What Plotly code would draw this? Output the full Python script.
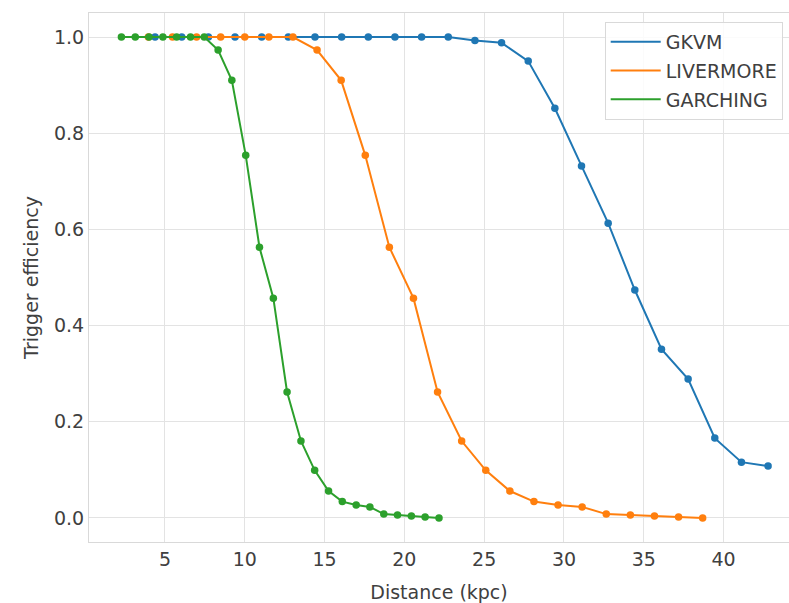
import plotly.graph_objects as go

# Distance grids (kpc) for each supernova model
dist_gkvm = [4.38, 6.05, 7.72, 9.39, 11.06, 12.73, 14.40, 16.07, 17.74, 19.41, 21.08, 22.75,
             24.42, 26.09, 27.76, 29.43, 31.10, 32.77, 34.44, 36.11, 37.78, 39.45, 41.12, 42.79]
dist_livermore = [3.96, 5.47, 6.98, 8.49, 10.00, 11.51, 13.02, 14.53, 16.04, 17.55, 19.06, 20.57,
                  22.08, 23.59, 25.10, 26.61, 28.12, 29.63, 31.14, 32.65, 34.16, 35.67, 37.18, 38.69]
dist_garching = [2.27, 3.14, 4.00, 4.87, 5.73, 6.60, 7.46, 8.33, 9.19, 10.06, 10.92, 11.79,
                 12.65, 13.52, 14.38, 15.25, 16.11, 16.98, 17.84, 18.71, 19.57, 20.44, 21.30, 22.17]

# Trigger efficiency at each distance
eff_gkvm = [1.0, 1.0, 1.0, 1.0, 1.0, 1.0, 1.0, 1.0, 1.0, 1.0, 1.0, 1.0,
            0.993, 0.988, 0.95, 0.852, 0.732, 0.613, 0.474, 0.351, 0.289, 0.166, 0.116, 0.108]
eff_livermore = [1.0, 1.0, 1.0, 1.0, 1.0, 1.0, 1.0, 0.973, 0.91, 0.754, 0.563, 0.457,
                 0.262, 0.16, 0.099, 0.056, 0.034, 0.027, 0.023, 0.008, 0.006, 0.004, 0.002, 0.0]
eff_garching = [1.0, 1.0, 1.0, 1.0, 1.0, 1.0, 1.0, 0.973, 0.91, 0.754, 0.563, 0.457,
                0.262, 0.16, 0.099, 0.056, 0.034, 0.027, 0.023, 0.008, 0.006, 0.004, 0.002, 0.0]

series = [
    ("GKVM", dist_gkvm, eff_gkvm, "#1f77b4"),
    ("LIVERMORE", dist_livermore, eff_livermore, "#ff7f0e"),
    ("GARCHING", dist_garching, eff_garching, "#2ca02c"),
]

x_ticks = [5, 10, 15, 20, 25, 30, 35, 40]
y_ticks = [0.0, 0.2, 0.4, 0.6, 0.8, 1.0]
y_tick_text = ["0.0", "0.2", "0.4", "0.6", "0.8", "1.0"]

fig = go.Figure()
for name, x, y, color in series:
    fig.add_trace(go.Scatter(
        x=x, y=y, mode="lines", name=name, legendgroup=name,
        line=dict(color=color, width=2),
    ))
    fig.add_trace(go.Scatter(
        x=x, y=y, mode="markers", name=name, legendgroup=name, showlegend=False,
        marker=dict(color=color, size=7.5, line=dict(width=0)),
    ))

font_family = "DejaVu Sans, sans-serif"
text_color = "#404040"
fig.update_layout(
    width=789, height=603,
    margin=dict(l=89, r=0, t=13, b=61),
    paper_bgcolor="white", plot_bgcolor="white",
    font=dict(family=font_family, size=19, color=text_color),
    showlegend=True,
    legend=dict(
        x=0.991, xanchor="right", y=0.983, yanchor="top",
        bgcolor="rgba(255,255,255,0.85)", bordercolor="#d9d9d9", borderwidth=1,
        font=dict(size=19, color=text_color),
        traceorder="grouped", tracegroupgap=1, itemwidth=50,
    ),
)
fig.update_xaxes(
    range=[0.24, 44.1], tickvals=x_ticks,
    showgrid=True, gridcolor="#e3e3e3", gridwidth=1.3,
    zeroline=False, showline=True, linecolor="#d9d9d9", linewidth=1, mirror=True,
    ticks="", tickfont=dict(size=19, color=text_color),
    title=dict(text="Distance (kpc)", font=dict(size=19, color=text_color), standoff=16),
)
fig.update_yaxes(
    range=[-0.05, 1.05], tickvals=y_ticks, ticktext=y_tick_text,
    showgrid=True, gridcolor="#e3e3e3", gridwidth=1.3,
    zeroline=False, showline=True, linecolor="#d9d9d9", linewidth=1, mirror=False,
    ticks="", tickfont=dict(size=19, color=text_color),
    title=dict(text="Trigger efficiency", font=dict(size=19, color=text_color), standoff=10),
)

fig.write_html("out.html")
